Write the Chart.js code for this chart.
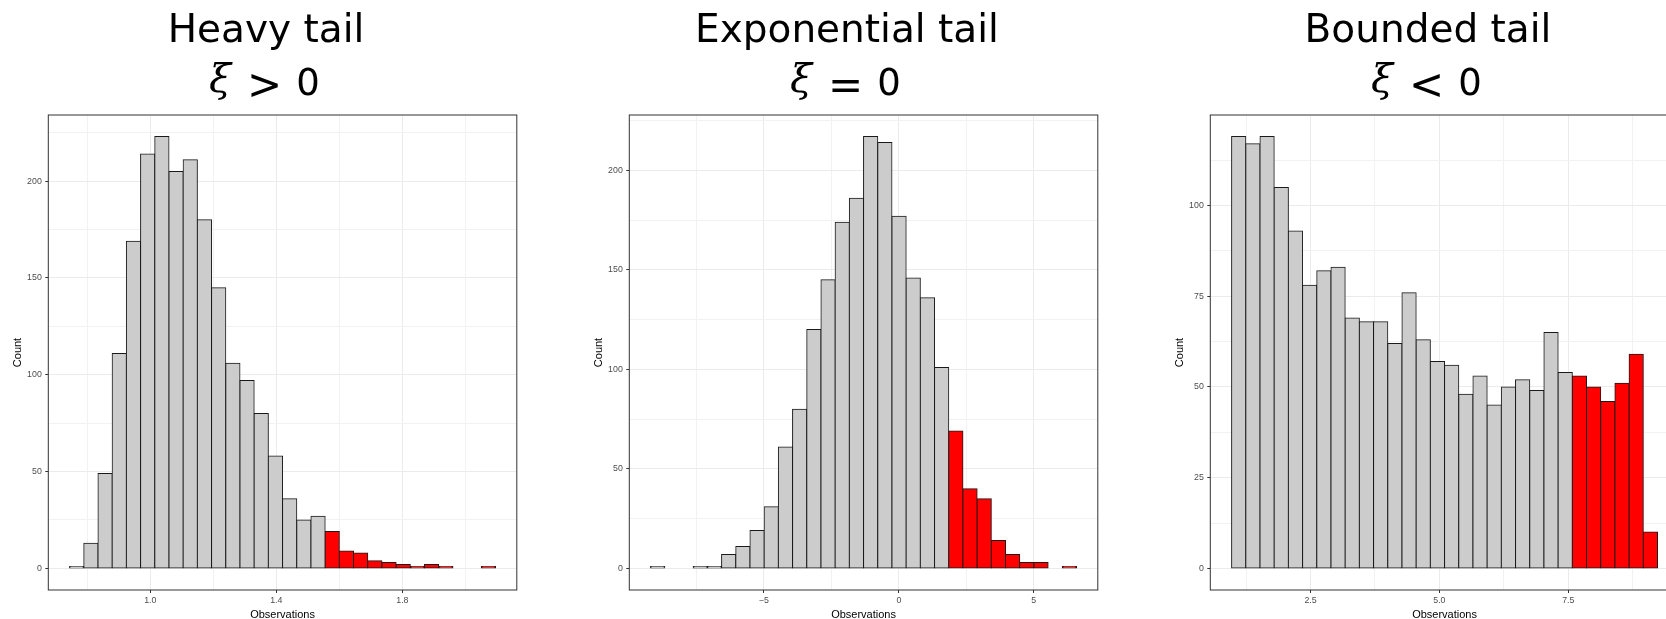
<!DOCTYPE html>
<html><head><meta charset="utf-8">
<script src="https://cdn.jsdelivr.net/npm/chart.js@4.4.1/dist/chart.umd.min.js"></script>
<style>
html,body{margin:0;padding:0;background:#fff;overflow:hidden;}
body{width:1666px;height:619px;position:relative;}
.panel{position:absolute;top:0;width:581px;height:620px;}
.panel canvas{position:absolute;left:0;top:0;}
.t1{position:absolute;left:0;width:532px;top:8.7px;text-align:center;font-family:'DejaVu Sans';font-size:39px;line-height:39px;color:#000;white-space:nowrap;}
.g{position:absolute;width:60px;text-align:center;color:#000;white-space:nowrap;}
.xi{left:190px;top:58px;font-family:'DejaVu Serif';font-style:italic;font-size:40px;line-height:40px;}
.rel{left:234.5px;top:64.2px;font-family:'DejaVu Sans';font-size:42px;line-height:42px;}
.zero{left:278px;top:63.7px;font-family:'DejaVu Sans';font-size:37px;line-height:37px;}
</style></head>
<body>
<div class="panel" style="left:0px"><canvas id="c1" width="581" height="620"></canvas>
  <div class="t1">Heavy tail</div><div class="g xi">ξ</div><div class="g rel">&gt;</div><div class="g zero">0</div></div>
<div class="panel" style="left:581px"><canvas id="c2" width="581" height="620"></canvas>
  <div class="t1">Exponential tail</div><div class="g xi">ξ</div><div class="g rel">=</div><div class="g zero">0</div></div>
<div class="panel" style="left:1162px"><canvas id="c3" width="581" height="620"></canvas>
  <div class="t1">Bounded tail</div><div class="g xi">ξ</div><div class="g rel">&lt;</div><div class="g zero">0</div></div>
<script>
// ---- Heavy tail (xi > 0)
const heavyCounts = [1,13,49,111,169,214,223,205,211,180,145,106,97,80,58,36,25,27,19,9,8,4,3,2,1,2,1,0,0,1];
const heavyBinStart = 0.744;
const heavyBinWidth = 0.04505;
const heavyTailFrom = 18;
const heavyXMajor = [1.0, 1.4, 1.8];
const heavyXLabels = ['1.0', '1.4', '1.8'];
const heavyXMinor = [0.8, 1.2, 1.6, 2.0];
const heavyYMajor = [0, 50, 100, 150, 200];
const heavyYLabels = ['0', '50', '100', '150', '200'];
const heavyYMinor = [25, 75, 125, 175, 225];

// ---- Exponential tail (xi = 0)
const expCounts = [1,0,0,1,1,7,11,19,31,61,80,120,145,174,186,217,214,177,146,136,101,69,40,35,14,7,3,3,0,1];
const expBinStart = -9.197;
const expBinWidth = 0.526;
const expTailFrom = 21;
const expXMajor = [-5, 0, 5];
const expXLabels = ['\u22125', '0', '5'];
const expXMinor = [-7.5, -2.5, 2.5];
const expYMajor = [0, 50, 100, 150, 200];
const expYLabels = ['0', '50', '100', '150', '200'];
const expYMinor = [25, 75, 125, 175, 225];

// ---- Bounded tail (xi < 0)
const boundCounts = [119,117,119,105,93,78,82,83,69,68,68,62,76,63,57,56,48,53,45,50,52,49,65,54,53,50,46,51,59,10];
const boundBinStart = 0.969;
const boundBinWidth = 0.2754;
const boundTailFrom = 24;
const boundXMajor = [2.5, 5.0, 7.5];
const boundXLabels = ['2.5', '5.0', '7.5'];
const boundXMinor = [1.25, 3.75, 6.25, 8.75];
const boundYMajor = [0, 25, 50, 75, 100];
const boundYLabels = ['0', '25', '50', '75', '100'];
const boundYMinor = [12.5, 37.5, 62.5, 87.5, 112.5];

const FONT = "'Liberation Sans', Arial, sans-serif";

const panelBorder = {
  id: 'panelBorder',
  afterDraw(chart) {
    const a = chart.chartArea, c = chart.ctx;
    c.save();
    c.strokeStyle = '#333333';
    c.lineWidth = 1;
    c.strokeRect(a.left, a.top, a.right - a.left, a.bottom - a.top);
    c.restore();
  }
};

function makeChart(id, counts, binStart, binWidth, tailFrom, xMajor, xLabels, xMinor, yMajor, yLabels, yMinor) {
  const n = counts.length;
  const data = counts.map((c, i) => ({ x: binStart + (i + 0.5) * binWidth, y: c }));
  // empty bins show only their outline (a flat dark line), like the reference
  const colors = counts.map((c, i) => c === 0 ? '#555555' : (i >= tailFrom ? '#FF0000' : '#CCCCCC'));
  const xLo = binStart, xHi = binStart + n * binWidth, xPad = 0.05 * (xHi - xLo);
  const yHi = Math.max(...counts), yPad = 0.05 * yHi;
  const xAll = xMajor.concat(xMinor).sort((a, b) => a - b);
  const yAll = yMajor.concat(yMinor).sort((a, b) => a - b);
  const isMajor = (arr, t) => !!t && arr.some(m => Math.abs(m - t.value) < 1e-9);
  const labelOf = (arr, labs, v) => { const k = arr.findIndex(m => Math.abs(m - v) < 1e-9); return k >= 0 ? labs[k] : ''; };
  return new Chart(document.getElementById(id), {
    type: 'bar',
    data: { datasets: [{
      data: data,
      backgroundColor: colors,
      borderColor: '#1a1a1a',
      borderWidth: 1,
      borderSkipped: false,
      inflateAmount: 0.5,
      barPercentage: 1,
      categoryPercentage: 1
    }]},
    options: {
      responsive: false,
      animation: false,
      devicePixelRatio: 1,
      layout: { padding: { top: 115, right: 64.2, bottom: 0, left: 0 } },
      plugins: { legend: { display: false }, tooltip: { enabled: false }, title: { display: false } },
      scales: {
        x: {
          type: 'linear',
          offset: false,
          min: xLo - xPad,
          max: xHi + xPad,
          afterBuildTicks: s => { s.ticks = xAll.map(v => ({ value: v })); },
          afterFit: s => { s.height = 30; },
          border: { display: false },
          grid: {
            offset: false,
            color: c => isMajor(xMajor, c.tick) ? '#EBEBEB' : '#F2F2F2',
            lineWidth: 1,
            drawTicks: true,
            tickLength: 3,
            tickWidth: 1,
            tickColor: c => isMajor(xMajor, c.tick) ? '#333333' : 'rgba(0,0,0,0)'
          },
          ticks: {
            autoSkip: false, maxRotation: 0, minRotation: 0, padding: 2,
            color: '#4D4D4D', font: { family: FONT, size: 8.8 },
            callback: v => labelOf(xMajor, xLabels, v)
          },
          title: { display: true, text: 'Observations', color: '#000', font: { family: FONT, size: 11, lineHeight: 1 }, padding: { top: 0, bottom: 0 } }
        },
        y: {
          type: 'linear',
          min: -yPad,
          max: yHi + yPad,
          afterBuildTicks: s => { s.ticks = yAll.map(v => ({ value: v })); },
          afterFit: s => { s.width = 48.3; },
          border: { display: false },
          grid: {
            color: c => isMajor(yMajor, c.tick) ? '#EBEBEB' : '#F2F2F2',
            lineWidth: 1,
            drawTicks: true,
            tickLength: 3,
            tickWidth: 1,
            tickColor: c => isMajor(yMajor, c.tick) ? '#333333' : 'rgba(0,0,0,0)'
          },
          ticks: {
            autoSkip: false, padding: 3.5,
            color: '#4D4D4D', font: { family: FONT, size: 8.8 },
            callback: v => labelOf(yMajor, yLabels, v)
          },
          title: { display: true, text: 'Count', color: '#000', font: { family: FONT, size: 11, lineHeight: 1 }, padding: { top: 12.9, bottom: 0 } }
        }
      }
    },
    plugins: [panelBorder]
  });
}

makeChart('c1', heavyCounts, heavyBinStart, heavyBinWidth, heavyTailFrom, heavyXMajor, heavyXLabels, heavyXMinor, heavyYMajor, heavyYLabels, heavyYMinor);
makeChart('c2', expCounts, expBinStart, expBinWidth, expTailFrom, expXMajor, expXLabels, expXMinor, expYMajor, expYLabels, expYMinor);
makeChart('c3', boundCounts, boundBinStart, boundBinWidth, boundTailFrom, boundXMajor, boundXLabels, boundXMinor, boundYMajor, boundYLabels, boundYMinor);
</script>
</body></html>
